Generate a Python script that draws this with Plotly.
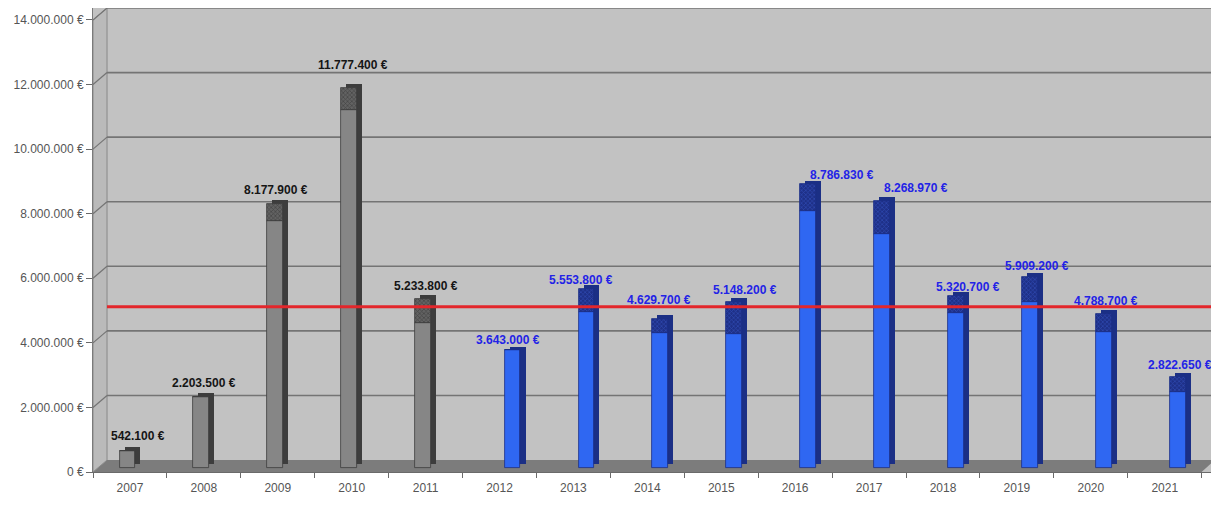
import plotly.graph_objects as go

# ---------------- data ----------------
YEARS = ["2007", "2008", "2009", "2010", "2011", "2012", "2013", "2014",
         "2015", "2016", "2017", "2018", "2019", "2020", "2021"]
TOTALS = [542100, 2203500, 8177900, 11777400, 5233800, 3643000, 5553800, 4629700,
          5148200, 8786830, 8268970, 5320700, 5909200, 4788700, 2822650]
# lower (solid) part of each bar; the remainder up to the total is the hatched cap
SOLID = [542100, 2203500, 7650000, 11100000, 4500000, 3643000, 4830000, 4170000,
         4140000, 7960000, 7240000, 4800000, 5160000, 4220000, 2360000]
GROUP = ["old"] * 5 + ["new"] * 10
TARGET = 5000000
Y_TICKS = [0, 2000000, 4000000, 6000000, 8000000, 10000000, 12000000, 14000000]
EURO = "\u20ac"

# ---------------- style ----------------
FONT = "Liberation Sans"
DEPTH = 120000          # bars stand a little behind the front edge of the floor
WALL = 370000           # vertical offset of the back wall
WALL_X = 0.0125         # horizontal offset of the back wall (paper)
CAP = 120000            # vertical size of the 3D cap
W = 0.215               # bar width (category units)
SIDE = 0.068            # side face shift (category units)
CENTER = {"old": -0.034, "new": 0.176}
COLORS = {
    "old": dict(front="#868686", side="#3d3d3d", hbg="#626262", hfg="#262626", text="#151515"),
    "new": dict(front="#2f67f2", side="#1b2f85", hbg="#1e3088", hfg="#3f62d8", text="#2323e6"),
}
LABEL_DX = [8, 0, -2, 1, 0, 8, 8, 12, 24, 47, 47, 25, 20, 15, 15]
LABEL_DY = [15, 14, 14, 23, 13, 10, 9, 19, 12, 9, 13, 9, 11, 13, 12]


def fmt(v):
    return f"{v:,}".replace(",", ".") + " " + EURO


fig = go.Figure()

for g in ["old", "new"]:
    idx = [i for i, k in enumerate(GROUP) if k == g]
    xs = [YEARS[i] for i in idx]
    tot = [TOTALS[i] for i in idx]
    sol = [SOLID[i] for i in idx]
    top = [TOTALS[i] - SOLID[i] for i in idx]
    c = COLORS[g]
    off = CENTER[g] - W / 2
    # side / depth face
    fig.add_trace(go.Bar(x=xs, y=tot, base=[DEPTH + CAP] * len(xs), width=W,
                         offset=off + SIDE, marker=dict(color=c["side"], line=dict(width=0)),
                         hoverinfo="skip", showlegend=False))
    # solid front
    fig.add_trace(go.Bar(x=xs, y=sol, base=[DEPTH] * len(xs), width=W, offset=off,
                         marker=dict(color=c["front"], line=dict(color=c["side"], width=0.8)),
                         hoverinfo="skip", showlegend=False))
    # hatched cap part
    fig.add_trace(go.Bar(x=xs, y=top, base=[DEPTH + s for s in sol], width=W, offset=off,
                         marker=dict(color=c["hbg"], line=dict(color=c["side"], width=0.8),
                                     pattern=dict(shape="x", fgcolor=c["hfg"], bgcolor=c["hbg"],
                                                  size=3, solidity=0.4)),
                         hoverinfo="skip", showlegend=False))

# value labels (category axis: position by category index)
for i, v in enumerate(TOTALS):
    fig.add_annotation(x=i, y=v + DEPTH, text="<b>" + fmt(v) + "</b>", showarrow=False,
                       xref="x", yref="y",
                       xshift=LABEL_DX[i], yshift=LABEL_DY[i], yanchor="middle",
                       font=dict(family=FONT, size=12, color=COLORS[GROUP[i]]["text"]))

shapes = []
# floor
shapes.append(dict(type="path", xref="paper", yref="y", layer="below",
                   path=f"M 0,0 L 0.988,0 L 1,{WALL} L {WALL_X},{WALL} Z",
                   fillcolor="#7c7c7c", line=dict(width=0)))
# left wall
shapes.append(dict(type="path", xref="paper", yref="y", layer="below",
                   path=f"M 0,0 L {WALL_X},{WALL} L {WALL_X},{Y_TICKS[-1] + WALL} L 0,{Y_TICKS[-1]} Z",
                   fillcolor="#bababa", line=dict(color="#8a8a8a", width=1)))
# back wall grid lines
for v in Y_TICKS[1:]:
    shapes.append(dict(type="line", xref="paper", yref="y", layer="below",
                       x0=WALL_X, x1=1, y0=v + WALL, y1=v + WALL,
                       line=dict(color="#747474", width=1.6)))
    shapes.append(dict(type="line", xref="paper", yref="y", layer="below",
                       x0=0, x1=WALL_X, y0=v, y1=v + WALL,
                       line=dict(color="#747474", width=1.2)))
# target line
shapes.append(dict(type="line", xref="paper", yref="y", layer="above",
                   x0=WALL_X, x1=1, y0=TARGET + DEPTH, y1=TARGET + DEPTH,
                   line=dict(color="#e3262b", width=3)))

fig.update_layout(
    width=1211, height=501,
    margin=dict(l=85, r=4, t=0, b=37, pad=0),
    paper_bgcolor="white", plot_bgcolor="#c2c2c2",
    barmode="overlay", bargap=0,
    shapes=shapes,
    font=dict(family=FONT, size=12, color="#4a4a4a"),
    xaxis=dict(type="category", categoryorder="array", categoryarray=YEARS,
               range=[-0.5, len(YEARS) - 0.5 + 0.18],
               tickson="boundaries", ticks="outside", ticklen=5, tickcolor="#6a6a6a",
               ticklabelstandoff=5,
               showline=True, linecolor="#6a6a6a", linewidth=1, showgrid=False,
               tickfont=dict(family=FONT, size=12, color="#555555"), fixedrange=True),
    yaxis=dict(range=[0, Y_TICKS[-1] + WALL], tickvals=Y_TICKS,
               ticktext=[fmt(v) for v in Y_TICKS],
               ticks="outside", ticklen=6, tickcolor="#6a6a6a",
               showline=True, linecolor="#7a7a7a", linewidth=1, showgrid=False,
               zeroline=False, tickfont=dict(family=FONT, size=12, color="#555555"),
               fixedrange=True),
)

fig.write_html("out.html")
